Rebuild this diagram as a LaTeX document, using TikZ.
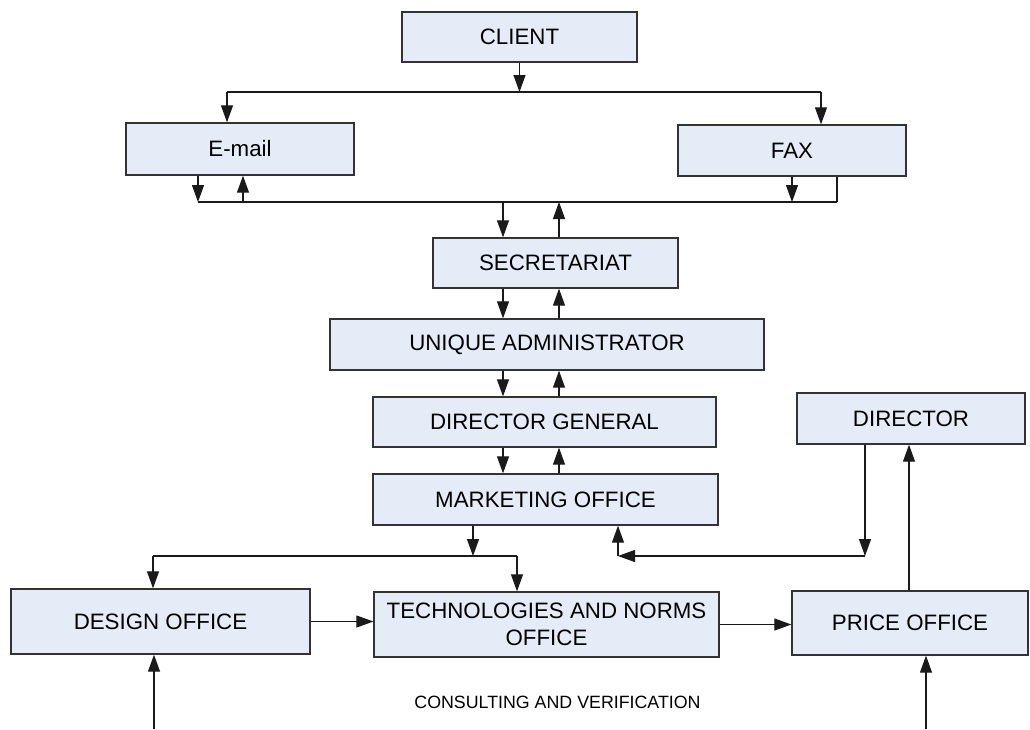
\documentclass[tikz,border=0pt]{standalone}
\usepackage{fontspec}
\setmainfont{Liberation Sans}
\usetikzlibrary{arrows.meta}
\definecolor{boxfill}{HTML}{E5ECF7}
\definecolor{boxline}{HTML}{333333}
\definecolor{wire}{HTML}{1A1A1A}
\begin{document}
\begin{tikzpicture}[x=1pt,y=-1pt,
  box/.style={draw=boxline,fill=boxfill,line width=1.3pt,rectangle,inner sep=0pt,
    align=center,font=\fontsize{22.3}{27}\selectfont},
  wire/.style={draw=wire,line width=1.1pt},
  arr/.style={wire,-{Triangle[length=17pt,width=12pt]}}]
\useasboundingbox (0,0) rectangle (1030,729);

% offices
\node[box,minimum width=235pt,minimum height=50pt] (client)   at (519.5,37)   {CLIENT};
\node[box,minimum width=228pt,minimum height=52pt] (email)    at (240,149)    {E-mail};
\node[box,minimum width=228pt,minimum height=51pt] (fax)      at (792,150.5)  {FAX};
\node[box,minimum width=245pt,minimum height=50pt] (secr)     at (555.5,263)  {SECRETARIAT};
\node[box,minimum width=434pt,minimum height=51pt] (unique)   at (547,344.5)  {UNIQUE ADMINISTRATOR};
\node[box,minimum width=343pt,minimum height=50pt] (dg)       at (544.5,422)  {DIRECTOR GENERAL};
\node[box,minimum width=345pt,minimum height=51pt] (mkt)      at (545.5,499.5){MARKETING OFFICE};
\node[box,minimum width=228pt,minimum height=51pt] (director) at (911,418.5)  {DIRECTOR};
\node[box,minimum width=299pt,minimum height=65pt] (design)   at (160.5,621.5){DESIGN OFFICE};
\node[box,minimum width=345pt,minimum height=65pt] (tech)     at (546.5,624.5){TECHNOLOGIES AND NORMS\\OFFICE};
\node[box,minimum width=236pt,minimum height=64pt] (price)    at (910,623)    {PRICE OFFICE};
\node[font=\fontsize{17.8}{21}\selectfont,inner sep=0pt] (consult) at (557.5,702) {CONSULTING AND VERIFICATION};

% client dispatch to e-mail and fax
\coordinate (t1) at (227,92);
\coordinate (t2) at (821,92);
\draw[wire] (t1) -- (t2);
\draw[arr] (client.south) -- (client.south |- t1);
\draw[arr] (t1) -- (t1 |- email.north);
\draw[arr] (t2) -- (t2 |- fax.north);

% common bus under e-mail and fax
\coordinate (b1) at (198,202);
\coordinate (b2) at (837,202);
\coordinate (eu) at (243,202);
\draw[wire] (b1) -- (b2);
\draw[arr] (b1 |- email.south) -- (b1);
\draw[arr] (eu) -- (eu |- email.south);
\draw[arr] (fax.south) -- (fax.south |- b1);
\draw[wire] (b2) -- (b2 |- fax.south);

% vertical chain: down at sd, up at su
\coordinate (sd) at (503,202);
\coordinate (su) at (559,202);
\draw[arr] (sd) -- (sd |- secr.north);
\draw[arr] (su |- secr.north) -- (su);
\draw[arr] (sd |- secr.south) -- (sd |- unique.north);
\draw[arr] (su |- unique.north) -- (su |- secr.south);
\draw[arr] (sd |- unique.south) -- (sd |- dg.north);
\draw[arr] (su |- dg.north) -- (su |- unique.south);
\draw[arr] (sd |- dg.south) -- (sd |- mkt.north);
\draw[arr] (su |- mkt.north) -- (su |- dg.south);

% marketing to design and technologies
\coordinate (m1) at (153,556);
\coordinate (m2) at (517,556);
\coordinate (md) at (473,556);
\draw[wire] (m1) -- (m2);
\draw[arr] (md |- mkt.south) -- (md);
\draw[arr] (m1) -- (m1 |- design.north);
\draw[arr] (m2) -- (m2 |- tech.north);

% director feedback to marketing
\coordinate (d1) at (865,556);
\coordinate (d2) at (618,556);
\draw[arr] (d1 |- director.south) -- (d1);
\draw[arr] (d1) -- (d2);
\draw[arr] (d2) -- (d2 |- mkt.south);

% price office to director
\coordinate (pu) at (909,591);
\draw[arr] (pu |- price.north) -- (pu |- director.south);

% office sequence
\draw[arr] (design.east) -- (design.east -| tech.west);
\draw[arr] (tech.east) -- (tech.east -| price.west);

% consulting inputs from below
\coordinate (in1) at (154,729);
\coordinate (in2) at (926,729);
\draw[arr] (in1) -- (in1 |- design.south);
\draw[arr] (in2) -- (in2 |- price.south);
\end{tikzpicture}
\end{document}
